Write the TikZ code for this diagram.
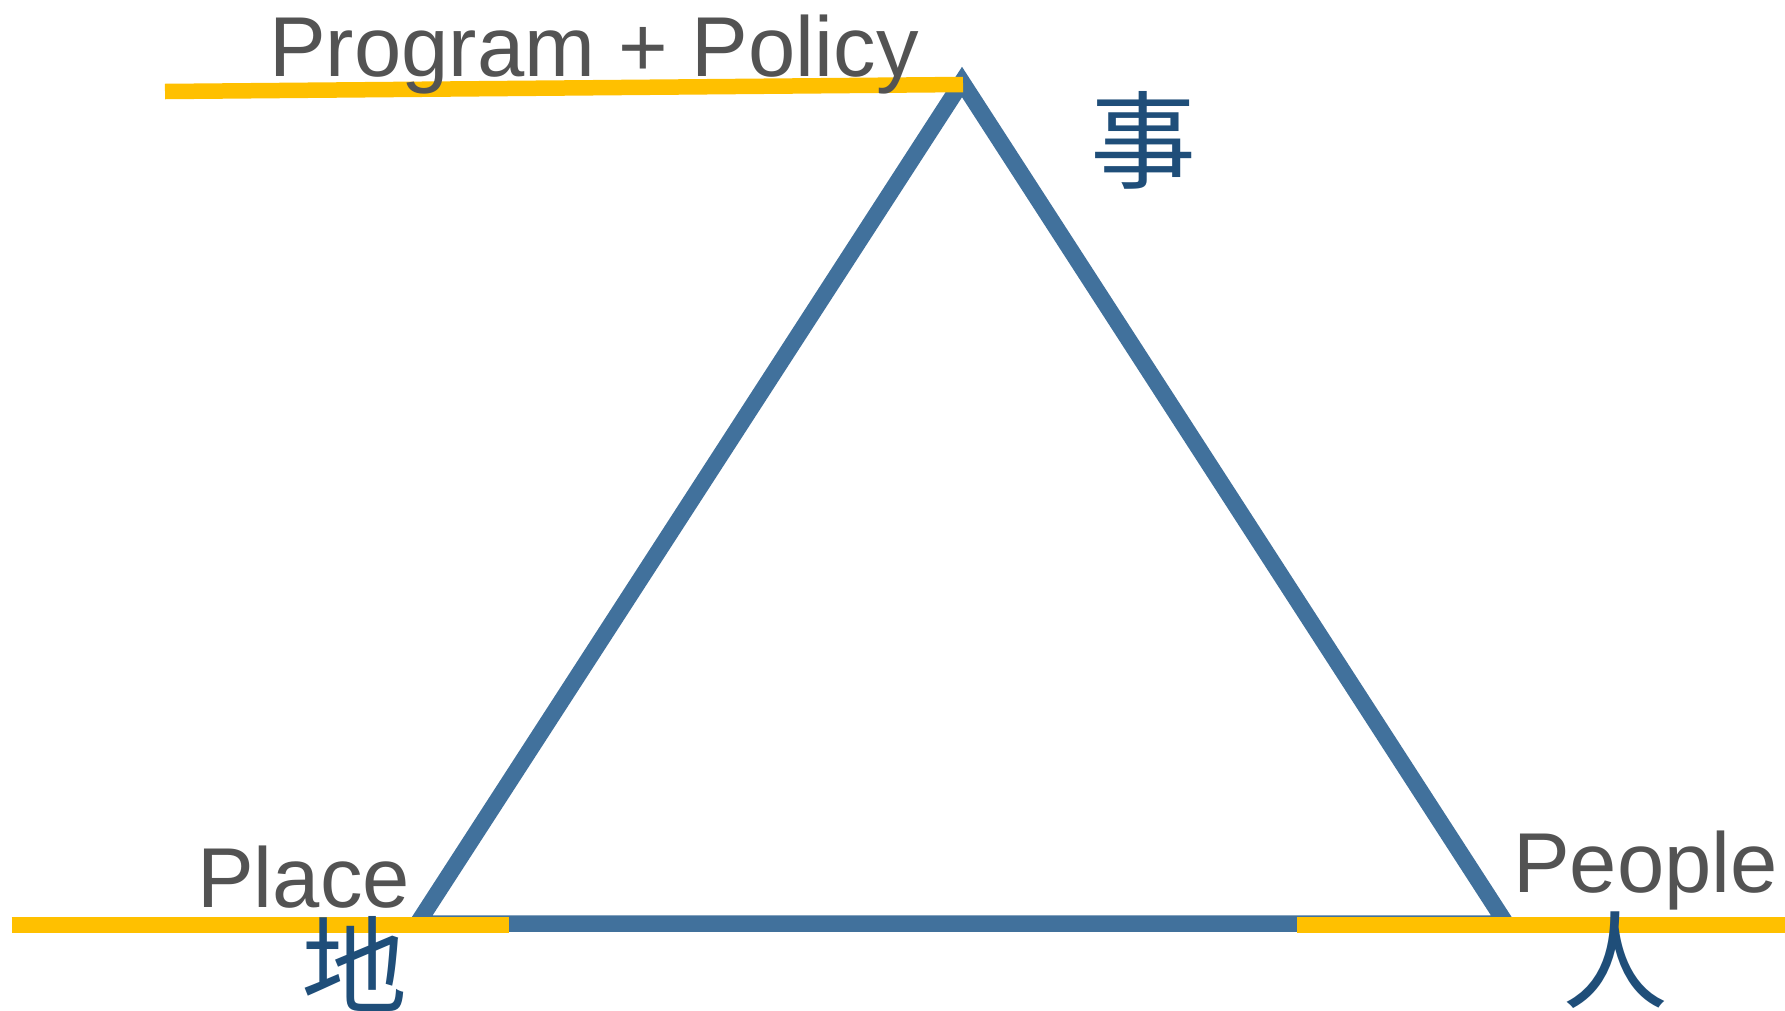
\documentclass[tikz,border=0pt]{standalone}
\usepackage{fontspec}
\setmainfont{Liberation Sans}
\newfontfamily\cjk{Noto Sans CJK TC}
\definecolor{triblue}{RGB}{65,113,156}
\definecolor{hanblue}{RGB}{31,78,121}
\definecolor{goldbar}{RGB}{255,192,0}
\definecolor{labgray}{RGB}{83,83,83}
\tikzset{
  tri/.style={draw=triblue, line width=16.5pt, line join=miter},
  goldline/.style={draw=goldbar, line width=15.5pt},
  lbl/.style={font=\fontsize{85}{85}\selectfont, text=labgray, inner sep=0pt, anchor=base west},
  han/.style={font=\cjk\fontsize{106}{106}\selectfont, text=hanblue, inner sep=0pt, anchor=center}
}
\begin{document}
\begin{tikzpicture}[x=1pt,y=-1pt]
\useasboundingbox (0,0) rectangle (1785,1010);
\fill[white] (0,0) rectangle (1785,1010);
% triangle
\coordinate (apex) at (962,82);
\coordinate (bl) at (417.5,923.5);
\coordinate (br) at (1506,923.5);
\draw[tri] (apex) -- (bl) -- (br) -- cycle;
% gold lines
\coordinate (t1) at (165,91.5);
\coordinate (t2) at (963,84.5);
\coordinate (l1) at (11.5,925);
\coordinate (l2) at (509,925);
\coordinate (r1) at (1297,925);
\coordinate (r2) at (1785,925);
\draw[goldline] (t1) -- (t2);
\draw[goldline] (l1) -- (l2);
\draw[goldline] (r1) -- (r2);
% labels
\node[lbl] (prog) at (269,76) {Program + Policy};
\node[lbl] (place) at (197,907) {Place};
\node[lbl] (people) at (1513,892.7) {People};
\node[han] (shi) at (1143.5,140) {事};
\node[han] (di) at (354,964) {地};
\node[han] (ren) at (1615.5,960.5) {人};
\end{tikzpicture}
\end{document}
